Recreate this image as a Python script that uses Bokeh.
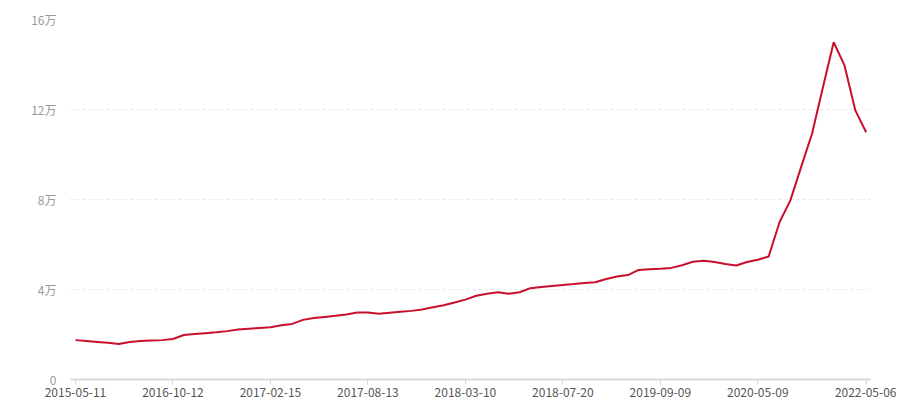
from bokeh.plotting import figure
from bokeh.models import Range1d, FixedTicker, ColumnDataSource
from bokeh.embed import file_html
from bokeh.resources import INLINE

# series values (one per category, 74 categories)
values = [17500, 17100, 16700, 16300, 15800, 16700, 17100, 17300, 17500, 18000,
          19800, 20200, 20600, 21000, 21500, 22200, 22600, 22900, 23200, 24100,
          24700, 26500, 27300, 27800, 28300, 28900, 29800, 29800, 29200, 29700,
          30100, 30500, 31100, 32100, 33000, 34200, 35500, 37200, 38100, 38800,
          38100, 38800, 40600, 41100, 41600, 42000, 42400, 42900, 43200, 44700,
          45800, 46400, 48700, 49000, 49200, 49600, 50800, 52300, 52800, 52200,
          51300, 50700, 52200, 53200, 54700, 69900, 79600, 94500, 109200, 129700,
          149900, 139600, 119600, 109900]

# category tick labels and the category index they sit on
tick_labels = ["2015-05-11", "2016-10-12", "2017-02-15", "2017-08-13", "2018-03-10",
               "2018-07-20", "2019-09-09", "2020-05-09", "2022-05-06"]
tick_index = [0, 9, 18, 27, 36, 45, 54, 63, 73]

y_ticks = [0, 40000, 80000, 120000, 160000]
y_labels = ["0", "4万", "8万", "12万", "16万"]

src = ColumnDataSource(dict(x=list(range(len(values))), y=values))

p = figure(frame_width=800, frame_height=360, output_backend="svg", toolbar_location=None,
           x_range=Range1d(-0.46, 73.4), y_range=Range1d(0, 160000),
           min_border_left=70, min_border_top=19, min_border_right=26, min_border_bottom=0)
p.outline_line_color = None
p.background_fill_color = "white"

p.line("x", "y", source=src, line_color="#c8102e", line_width=2)

font = "Noto Sans CJK SC"

# x axis
xa = p.xaxis[0]
xa.ticker = FixedTicker(ticks=tick_index)
xa.major_label_overrides = {i: l for i, l in zip(tick_index, tick_labels)}
xa.axis_line_color = "#d8d8d8"
xa.axis_line_width = 2
xa.major_tick_line_color = "#d8d8d8"
xa.major_tick_out = 5
xa.major_tick_in = 0
xa.minor_tick_line_color = None
xa.major_label_text_color = "#555555"
xa.major_label_text_font = font
xa.major_label_text_font_size = "12px"
xa.major_label_standoff = 3

# y axis
ya = p.yaxis[0]
ya.ticker = FixedTicker(ticks=y_ticks)
ya.major_label_overrides = {v: l for v, l in zip(y_ticks, y_labels)}
ya.axis_line_color = None
ya.major_tick_line_color = None
ya.minor_tick_line_color = None
ya.major_label_text_color = "#999999"
ya.major_label_text_font = font
ya.major_label_text_font_size = "12px"
ya.major_label_standoff = 8

p.xgrid.grid_line_color = None
p.ygrid.grid_line_color = "#e6e6e6"
p.ygrid.grid_line_dash = "3 3"
p.ygrid.grid_line_width = 1

open("out.html", "w").write(file_html(p, INLINE))
